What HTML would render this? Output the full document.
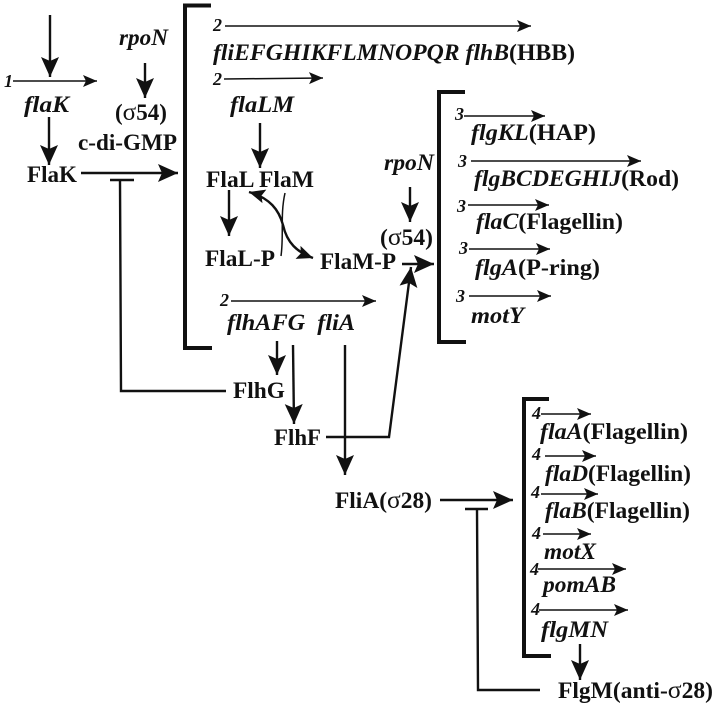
<!DOCTYPE html>
<html>
<head>
<meta charset="utf-8">
<style>
html,body{margin:0;padding:0;background:#fff;width:720px;height:708px;overflow:hidden}
svg{display:block;filter:blur(.35px)}
text{font-family:"Liberation Serif","Times New Roman",Times,serif;font-weight:bold;fill:#111;font-size:23px}
.i{font-style:italic}
.n{font-style:italic;font-size:18px}
.g{font-weight:normal;font-size:25px}
</style>
</head>
<body>
<svg width="720" height="708" viewBox="0 0 720 708" xmlns="http://www.w3.org/2000/svg">
<defs>
<marker id="t" markerUnits="userSpaceOnUse" markerWidth="16" markerHeight="14" refX="14" refY="7" orient="auto"><path d="M14,7 L0,1 L3,7 L0,13 Z" fill="#111"/></marker>
<marker id="b" markerUnits="userSpaceOnUse" markerWidth="22" markerHeight="20" refX="20" refY="10" orient="auto-start-reverse"><path d="M20,10 L0,1 L4,10 L0,19 Z" fill="#111"/></marker>
<marker id="c" markerUnits="userSpaceOnUse" markerWidth="18" markerHeight="16" refX="16" refY="8" orient="auto-start-reverse"><path d="M16,8 L0,1 L3,8 L0,15 Z" fill="#111"/></marker>
</defs>

<g fill="none" stroke="#111" stroke-width="4">
<path d="M211,5.500 H185 V348 H212"/>
<path d="M465,92 H439 V342 H466"/>
<path d="M549,399 H524 V656 H551"/>
</g>

<g fill="none" stroke="#111" stroke-width="1.500">
<line x1="13" y1="81" x2="97" y2="81" marker-end="url(#t)"/>
<line x1="225" y1="26" x2="531" y2="26" marker-end="url(#t)"/>
<line x1="224" y1="79" x2="323" y2="78" marker-end="url(#t)"/>
<line x1="231" y1="301" x2="376" y2="301" marker-end="url(#t)"/>
<line x1="464" y1="116" x2="545" y2="116" marker-end="url(#t)"/>
<line x1="471" y1="161" x2="641" y2="161" marker-end="url(#t)"/>
<line x1="468" y1="205" x2="549" y2="205" marker-end="url(#t)"/>
<line x1="469" y1="249" x2="550" y2="249" marker-end="url(#t)"/>
<line x1="469" y1="296" x2="551" y2="296" marker-end="url(#t)"/>
<line x1="541" y1="414" x2="591" y2="414" marker-end="url(#t)"/>
<line x1="545" y1="456" x2="596" y2="456" marker-end="url(#t)"/>
<line x1="541" y1="494" x2="598" y2="494" marker-end="url(#t)"/>
<line x1="543" y1="534" x2="591" y2="534" marker-end="url(#t)"/>
<line x1="538" y1="569" x2="626" y2="569" marker-end="url(#t)"/>
<line x1="539" y1="610" x2="628" y2="610" marker-end="url(#t)"/>
<path d="M285,193 C280,215 284,235 281,256"/>
</g>

<g fill="none" stroke="#111" stroke-width="2.400">
<line x1="50" y1="15" x2="50" y2="77" marker-end="url(#b)"/>
<line x1="145" y1="63" x2="145" y2="98" marker-end="url(#b)"/>
<line x1="49" y1="117" x2="49" y2="165" marker-end="url(#b)"/>
<line x1="81" y1="173" x2="178" y2="173" marker-end="url(#b)"/>
<line x1="260" y1="123" x2="260" y2="168" marker-end="url(#b)"/>
<line x1="229" y1="190" x2="229" y2="236" marker-end="url(#b)"/>
<line x1="277" y1="341" x2="277" y2="375" marker-end="url(#b)"/>
<line x1="293" y1="345" x2="294" y2="424" marker-end="url(#b)"/>
<line x1="345" y1="345" x2="345" y2="475" marker-end="url(#b)"/>
<line x1="410" y1="187" x2="410" y2="222" marker-end="url(#b)"/>
<line x1="402" y1="264" x2="434" y2="264" marker-end="url(#b)"/>
<path d="M326,437 H389 L411,267" marker-end="url(#b)"/>
<line x1="440" y1="500" x2="513" y2="500" marker-end="url(#b)"/>
<line x1="580" y1="644" x2="580" y2="680" marker-end="url(#b)"/>
<path d="M249,192 C270,198 279,210 283,225 C287,243 297,252 313,258" marker-start="url(#c)" marker-end="url(#c)"/>
<path d="M110,180 H134 M120,180 L121,391 H226"/>
<path d="M465,509 H488 M477,509 L478,690 H540"/>
</g>

<text class="n" x="4" y="87">1</text>
<text class="n" x="213" y="31">2</text>
<text class="n" x="213" y="85">2</text>
<text class="n" x="220" y="306">2</text>
<text class="n" x="455" y="120">3</text>
<text class="n" x="458" y="167">3</text>
<text class="n" x="457" y="212">3</text>
<text class="n" x="459" y="254">3</text>
<text class="n" x="456" y="302">3</text>
<text class="n" x="532" y="419">4</text>
<text class="n" x="532" y="460">4</text>
<text class="n" x="531" y="498">4</text>
<text class="n" x="532" y="539">4</text>
<text class="n" x="530" y="575">4</text>
<text class="n" x="531" y="615">4</text>

<text class="i" x="119" y="45" textLength="49" lengthAdjust="spacingAndGlyphs">rpoN</text>
<text class="i" x="24" y="112" textLength="45" lengthAdjust="spacingAndGlyphs">flaK</text>
<text x="115" y="120" textLength="52" lengthAdjust="spacingAndGlyphs">(<tspan class="g">σ</tspan>54)</text>
<text x="78" y="150" textLength="99" lengthAdjust="spacingAndGlyphs">c-di-GMP</text>
<text x="27" y="182" textLength="50" lengthAdjust="spacingAndGlyphs">FlaK</text>
<text x="213" y="60" textLength="362" lengthAdjust="spacingAndGlyphs"><tspan class="i">fliEFGHIKFLMNOPQR flhB</tspan>(HBB)</text>
<text class="i" x="230" y="112" textLength="64" lengthAdjust="spacingAndGlyphs">flaLM</text>
<text x="206" y="187" textLength="108" lengthAdjust="spacingAndGlyphs">FlaL FlaM</text>
<text x="205" y="266" textLength="70" lengthAdjust="spacingAndGlyphs">FlaL-P</text>
<text x="320" y="269" textLength="76" lengthAdjust="spacingAndGlyphs">FlaM-P</text>
<text class="i" x="227" y="330" textLength="128" lengthAdjust="spacingAndGlyphs" xml:space="preserve">flhAFG  fliA</text>
<text class="i" x="384" y="170" textLength="50" lengthAdjust="spacingAndGlyphs">rpoN</text>
<text x="380" y="245" textLength="53" lengthAdjust="spacingAndGlyphs">(<tspan class="g">σ</tspan>54)</text>
<text x="471" y="140" textLength="125" lengthAdjust="spacingAndGlyphs"><tspan class="i">flgKL</tspan>(HAP)</text>
<text x="474" y="186" textLength="205" lengthAdjust="spacingAndGlyphs"><tspan class="i">flgBCDEGHIJ</tspan>(Rod)</text>
<text x="476" y="229" textLength="147" lengthAdjust="spacingAndGlyphs"><tspan class="i">flaC</tspan>(Flagellin)</text>
<text x="475" y="275" textLength="125" lengthAdjust="spacingAndGlyphs"><tspan class="i">flgA</tspan>(P-ring)</text>
<text class="i" x="471" y="323" textLength="53" lengthAdjust="spacingAndGlyphs">motY</text>
<text x="233" y="398" textLength="52" lengthAdjust="spacingAndGlyphs">FlhG</text>
<text x="274" y="445" textLength="47" lengthAdjust="spacingAndGlyphs">FlhF</text>
<text x="335" y="508" textLength="97" lengthAdjust="spacingAndGlyphs">FliA(<tspan class="g">σ</tspan>28)</text>
<text x="540" y="439" textLength="148" lengthAdjust="spacingAndGlyphs"><tspan class="i">flaA</tspan>(Flagellin)</text>
<text x="545" y="481" textLength="146" lengthAdjust="spacingAndGlyphs"><tspan class="i">flaD</tspan>(Flagellin)</text>
<text x="545" y="518" textLength="145" lengthAdjust="spacingAndGlyphs"><tspan class="i">flaB</tspan>(Flagellin)</text>
<text class="i" x="544" y="559" textLength="52" lengthAdjust="spacingAndGlyphs">motX</text>
<text class="i" x="543" y="592" textLength="73" lengthAdjust="spacingAndGlyphs">pomAB</text>
<text class="i" x="541" y="637" textLength="67" lengthAdjust="spacingAndGlyphs">flgMN</text>
<text x="558" y="698" textLength="155" lengthAdjust="spacingAndGlyphs">FlgM(anti-<tspan class="g">σ</tspan>28)</text>
</svg>
</body>
</html>
